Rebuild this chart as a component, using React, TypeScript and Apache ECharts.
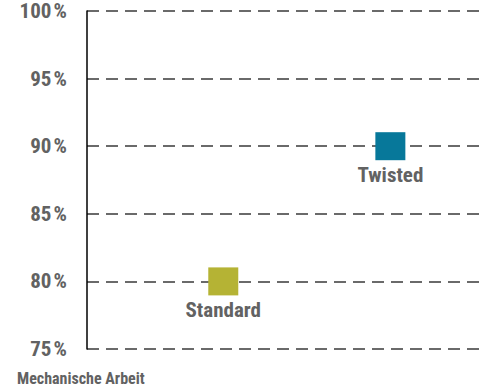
import React, { useEffect, useRef } from "react";
import * as echarts from "echarts";

const categories = ["Standard", "Twisted"];
const values = [80, 90];
const xPositions = [0.345, 0.768];
const colors = ["#b5b334", "#07789a"];
const yTicks = [75, 80, 85, 90, 95, 100];
const footnote = "Mechanische Arbeit";

const FONT = "'Liberation Sans Narrow', 'Roboto Condensed', 'Arial Narrow', Roboto, sans-serif";

export default function App() {
  const ref = useRef<HTMLDivElement>(null);
  useEffect(() => {
    if (!ref.current) return;
    const chart = echarts.init(ref.current, undefined, { renderer: "svg" });
    chart.setOption({
      animation: false,
      grid: { left: 87, right: 4, top: 11, bottom: 39 },
      xAxis: {
        type: "value",
        min: 0,
        max: 1,
        show: false,
      },
      yAxis: {
        type: "value",
        min: yTicks[0],
        max: yTicks[yTicks.length - 1],
        interval: 5,
        axisLine: { show: true, lineStyle: { color: "#000", width: 1.5 } },
        axisTick: { show: false },
        axisLabel: {
          formatter: (v: number) => `${v}\u200a%`,
          color: "#626262",
          fontFamily: FONT,
          fontWeight: "bold",
          fontSize: 21,
          margin: 20,
        },
        splitLine: {
          show: true,
          lineStyle: { color: "#3a3a3a", width: 1.5, type: [12, 7] },
        },
      },
      series: [
        {
          type: "scatter",
          symbol: "rect",
          symbolSize: [30, 28],
          data: categories.map((c, i) => ({
            value: [xPositions[i], values[i]],
            name: c,
            itemStyle: { color: colors[i], opacity: 1 },
          })),
          label: {
            show: true,
            position: "bottom",
            distance: 4,
            formatter: (p: any) => p.name,
            color: "#626262",
            fontFamily: FONT,
            fontWeight: "bold",
            fontSize: 21,
          },
        },
      ],
      graphic: [
        {
          type: "text",
          left: 17,
          top: 370,
          style: {
            text: footnote,
            fill: "#626262",
            font: `bold 16px ${FONT}`,
          },
        },
      ],
    });
    return () => chart.dispose();
  }, []);
  return <div ref={ref} style={{ width: 486, height: 388, position: "absolute", left: 0, top: 0 }} />;
}
